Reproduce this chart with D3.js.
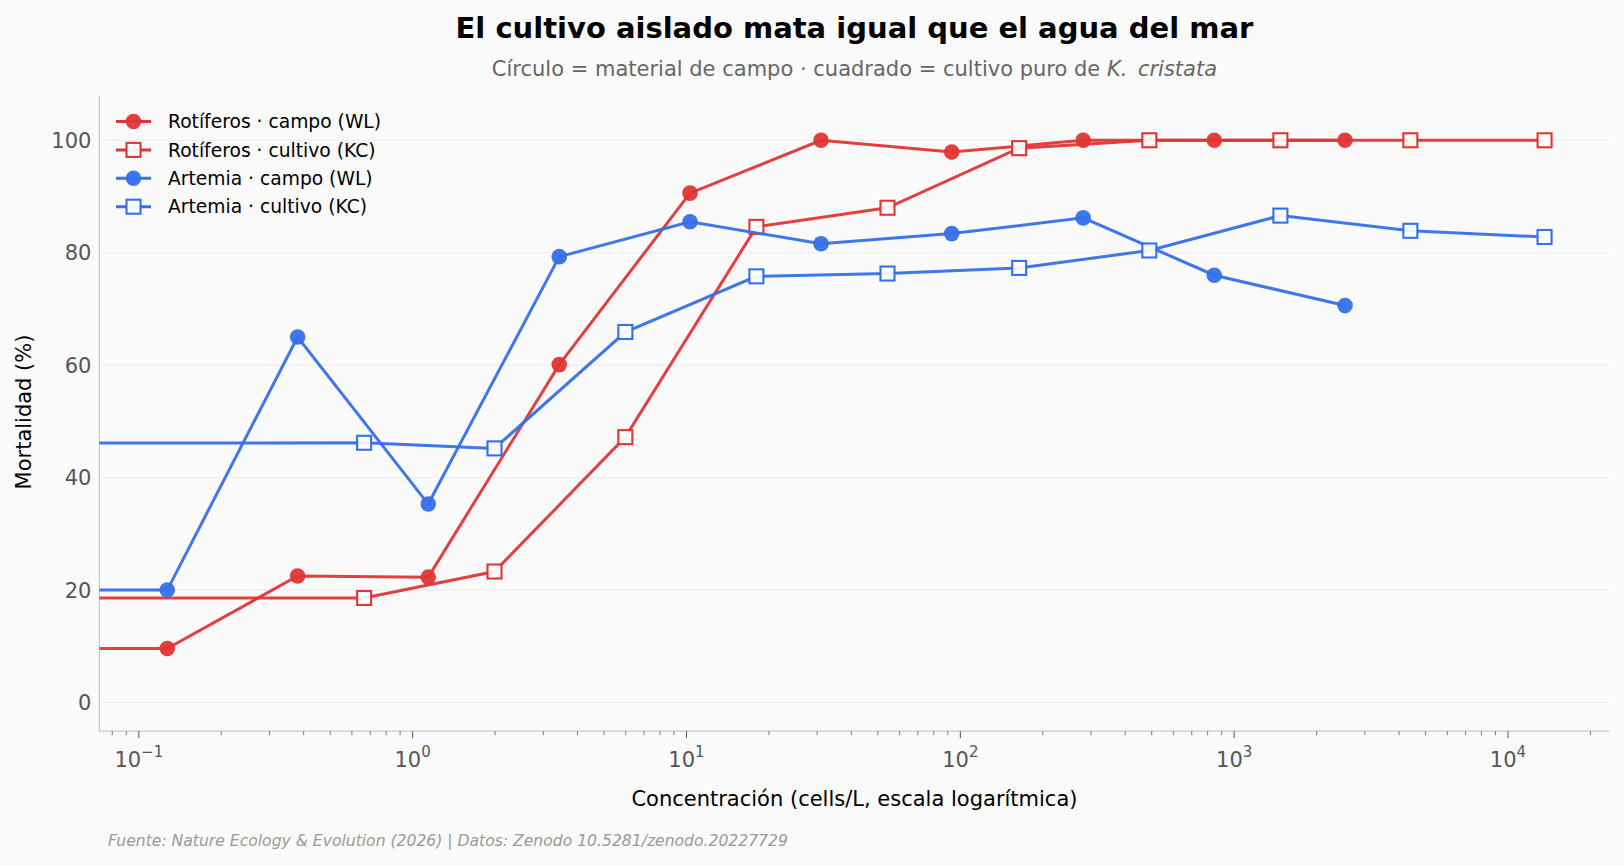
<!DOCTYPE html>
<html><head><meta charset="utf-8">
<script src="https://cdn.jsdelivr.net/npm/d3@7"></script>
<style>
html,body{margin:0;padding:0;background:#fafafa;}
svg{display:block;font-family:"DejaVu Sans",sans-serif;}
</style></head>
<body>
<svg id="chart" width="1624" height="865"></svg>
<script>
// ---- data ----
const controlConc = 0.01; // control (off-scale, clipped)
const concField = [0.127, 0.38, 1.14, 3.43, 10.3, 31.0, 93.0, 281, 846, 2540];
const concCulture = [0.665, 1.99, 5.98, 18.0, 54.2, 164, 490, 1475, 4400, 13600];
const rotField = [9.6, 22.5, 22.3, 60.1, 90.6, 100, 97.9, 100, 100, 100];
const rotFieldControl = 9.6;
const rotCulture = [18.6, 23.3, 47.2, 84.6, 88.0, 98.6, 100, 100, 100, 100];
const rotCultureControl = 18.6;
const artField = [20.0, 65.0, 35.3, 79.3, 85.5, 81.6, 83.4, 86.2, 76.0, 70.6];
const artFieldControl = 20.0;
const artCulture = [46.2, 45.2, 65.9, 75.8, 76.3, 77.3, 80.4, 86.6, 83.9, 82.8];
const artCultureControl = 46.1;
const seriesNames = ["Rotíferos · campo (WL)", "Rotíferos · cultivo (KC)", "Artemia · campo (WL)", "Artemia · cultivo (KC)"];
const yTicks = [0, 20, 40, 60, 80, 100];
const xTickExps = [-1, 0, 1, 2, 3, 4];
const titleText = "El cultivo aislado mata igual que el agua del mar";
const xLabel = "Concentración (cells/L, escala logarítmica)";
const yLabel = "Mortalidad (%)";
const footer = "Fuente: Nature Ecology & Evolution (2026) | Datos: Zenodo 10.5281/zenodo.20227729";

const RED = "#e03535", BLUE = "#3570e8";
const series = [
  {name: seriesNames[0], color: RED, shape: "circle", conc: [controlConc, ...concField], val: [rotFieldControl, ...rotField]},
  {name: seriesNames[1], color: RED, shape: "square", conc: [controlConc, ...concCulture], val: [rotCultureControl, ...rotCulture]},
  {name: seriesNames[2], color: BLUE, shape: "circle", conc: [controlConc, ...concField], val: [artFieldControl, ...artField]},
  {name: seriesNames[3], color: BLUE, shape: "square", conc: [controlConc, ...concCulture], val: [artCultureControl, ...artCulture]},
];

const svg = d3.select("#chart");
const L = 99.4, R = 1609.5, T = 95.3, B = 731.2;
const x = d3.scaleLog().domain([0.07179, 23477]).range([L, R]);
const y = d3.scaleLinear().domain([-5.1, 108]).range([B, T]);
const cx = (L + R) / 2;

svg.append("rect").attr("width", 1624).attr("height", 865).attr("fill", "#fafafa");

// title
svg.append("text").attr("x", cx).attr("y", 38).attr("text-anchor", "middle")
  .attr("font-size", 29).attr("font-weight", "bold").attr("fill", "#000").text(titleText);
const sub = svg.append("text").attr("x", cx).attr("y", 76).attr("text-anchor", "middle")
  .attr("font-size", 21).attr("fill", "#666");
sub.append("tspan").text("Círculo = material de campo · cuadrado = cultivo puro de ");
sub.append("tspan").attr("font-style", "italic").text("K.\u2002cristata");

// grid
svg.append("g").selectAll("line").data(yTicks).join("line")
  .attr("x1", L).attr("x2", R).attr("y1", d => y(d)).attr("y2", d => y(d))
  .attr("stroke", "#ebebeb").attr("stroke-width", 1);

// axes
const gx = svg.append("g").attr("transform", `translate(0,${B})`);
gx.append("line").attr("x1", L).attr("x2", R).attr("stroke", "#c8c8c8").attr("stroke-width", 1.2);
const minor = [];
for (let e = -2; e <= 4; e++) for (let m = 2; m <= 9; m++) { const v = m * Math.pow(10, e); if (v > x.domain()[0] && v < x.domain()[1]) minor.push(v); }
gx.selectAll("line.minor").data(minor).join("line").attr("class", "minor")
  .attr("x1", d => x(d)).attr("x2", d => x(d)).attr("y1", 0).attr("y2", 4)
  .attr("stroke", "#555").attr("stroke-width", 0.8);
const major = xTickExps.map(e => Math.pow(10, e));
gx.selectAll("line.major").data(major).join("line").attr("class", "major")
  .attr("x1", d => x(d)).attr("x2", d => x(d)).attr("y1", 0).attr("y2", 7)
  .attr("stroke", "#555").attr("stroke-width", 1);
const tl = gx.selectAll("text.tl").data(xTickExps).join("text").attr("class", "tl")
  .attr("x", d => x(Math.pow(10, d))).attr("y", 36).attr("text-anchor", "middle")
  .attr("font-size", 21).attr("fill", "#555");
tl.append("tspan").text("10");
tl.append("tspan").attr("dy", -10).attr("font-size", 15).text(d => d < 0 ? "\u2212" + Math.abs(d) : d);

const gy = svg.append("g");
gy.append("line").attr("x1", L).attr("x2", L).attr("y1", T).attr("y2", B).attr("stroke", "#c8c8c8").attr("stroke-width", 1.2);
gy.selectAll("text").data(yTicks).join("text")
  .attr("x", L - 8).attr("y", d => y(d)).attr("dy", "0.36em").attr("text-anchor", "end")
  .attr("font-size", 21).attr("fill", "#555").text(d => d);

svg.append("text").attr("x", cx).attr("y", 806).attr("text-anchor", "middle")
  .attr("font-size", 21).attr("fill", "#000").text(xLabel);
svg.append("text").attr("transform", `translate(31,412) rotate(-90)`).attr("text-anchor", "middle")
  .attr("font-size", 21).attr("fill", "#000").text(yLabel);
svg.append("text").attr("x", 108).attr("y", 846).attr("font-size", 15.6).attr("font-style", "italic")
  .attr("fill", "#999").text(footer);

// clip
svg.append("clipPath").attr("id", "clip").append("rect").attr("x", L).attr("y", T).attr("width", R - L).attr("height", B - T);
const plot = svg.append("g").attr("clip-path", "url(#clip)");

const line = d3.line().x(d => x(d[0])).y(d => y(d[1]));
function drawMarker(g, shape, color, px, py) {
  if (shape === "circle") {
    g.append("circle").attr("cx", px).attr("cy", py).attr("r", 7.8).attr("fill", color).attr("fill-opacity", 0.95);
  } else {
    g.append("rect").attr("x", px - 7).attr("y", py - 7).attr("width", 14).attr("height", 14)
      .attr("fill", "#fff").attr("fill-opacity", 0.92).attr("stroke", color).attr("stroke-width", 2.1);
  }
}
series.forEach(s => {
  const pts = s.conc.map((c, i) => [c, s.val[i]]);
  plot.append("path").datum(pts).attr("d", line).attr("fill", "none")
    .attr("stroke", s.color).attr("stroke-width", 3).attr("stroke-opacity", 0.95);
  const mg = plot.append("g");
  pts.slice(1).forEach(p => drawMarker(mg, s.shape, s.color, x(p[0]), y(p[1])));
});

// legend
const lg = svg.append("g");
series.forEach((s, i) => {
  const yy = 121.5 + i * 28.4;
  lg.append("line").attr("x1", 116).attr("x2", 151).attr("y1", yy).attr("y2", yy).attr("stroke", s.color).attr("stroke-width", 3);
  drawMarker(lg, s.shape, s.color, 133.5, yy);
  lg.append("text").attr("x", 168).attr("y", yy).attr("dy", "0.36em").attr("font-size", 18.7).attr("fill", "#000").text(s.name);
});
</script>
</body></html>
